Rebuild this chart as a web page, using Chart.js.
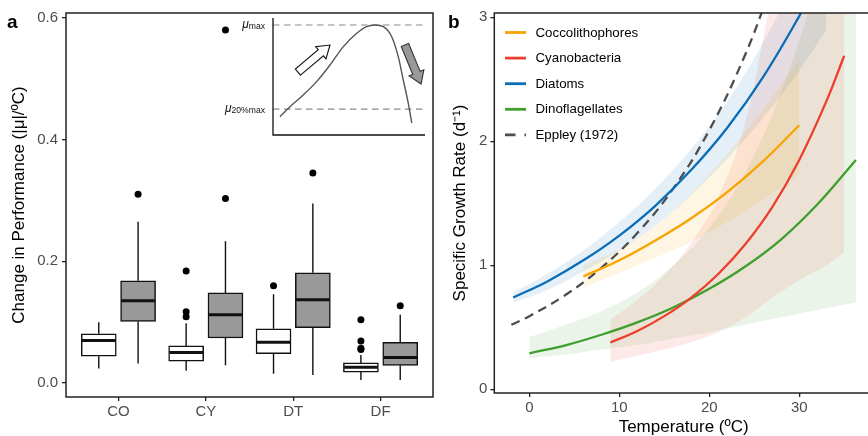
<!DOCTYPE html>
<html><head><meta charset="utf-8">
<script src="https://cdn.jsdelivr.net/npm/chart.js@4.4.1/dist/chart.umd.min.js"></script>
<style>
html,body{margin:0;padding:0;background:#fff;overflow:hidden;width:868px;height:436px;}
#wrap{position:relative;width:868px;height:436px;overflow:hidden;}
canvas{position:absolute;}
#ca{left:0;top:0;}
#cb{left:440px;top:0;}
#ci{left:215px;top:10px;}
</style></head><body>
<div id="wrap">
<canvas id="ca" width="440" height="436"></canvas>
<canvas id="cb" width="440" height="436"></canvas>
<canvas id="ci" width="220" height="132"></canvas>
</div>
<script>
// ---------------- DATA: panel a (box plots) ----------------
const categories = ['CO', 'CY', 'DT', 'DF'];
const perfTicks = [0.0, 0.2, 0.4, 0.6];
// white boxes
const whiteLow    = [0.024, 0.020, 0.015, 0.005];
const whiteQ1     = [0.044, 0.036, 0.048, 0.018];
const whiteMedian = [0.070, 0.050, 0.067, 0.026];
const whiteQ3     = [0.081, 0.061, 0.089, 0.033];
const whiteHigh   = [0.100, 0.098, 0.146, 0.046];
const whiteOutliers = [[], [0.184, 0.117, 0.109], [0.160], [0.104, 0.069, 0.057, 0.055]];
// grey boxes
const greyLow    = [0.032, 0.029, 0.013, 0.005];
const greyQ1     = [0.101, 0.074, 0.091, 0.029];
const greyMedian = [0.135, 0.112, 0.137, 0.042];
const greyQ3     = [0.168, 0.148, 0.181, 0.067];
const greyHigh   = [0.265, 0.233, 0.295, 0.112];
const greyOutliers = [[0.310], [0.303, 0.580], [0.345], [0.127]];

// ---------------- DATA: inset schematic ----------------
const insetX = [4.6, 11.2, 19.9, 28.7, 37.5, 46.3, 55.1, 61.6, 67.1, 72.6, 78.1, 82.4, 85.7, 89.0, 91.3];
const insetY = [15.6, 24.2, 34.2, 45.6, 59.8, 75.5, 86.9, 92.6, 94.0, 92.6, 84.0, 67.0, 47.0, 27.1, 10.3];
const insetMax = 94.0;
const insetMin20 = 22.2;

// ---------------- DATA: panel b (growth curves) ----------------
const tempTicks = [0, 10, 20, 30];
const rateTicks = [0, 1, 2, 3];
const seriesNames = ['Coccolithophores', 'Cyanobacteria', 'Diatoms', 'Dinoflagellates', 'Eppley (1972)'];

const coccoT  = [6, 10, 14, 18, 22, 26, 30];
const coccoMu = [0.91, 1.04, 1.20, 1.38, 1.59, 1.84, 2.13];
const coccoLo = [0.82, 0.94, 1.06, 1.19, 1.35, 1.53, 1.74];
const coccoHi = [1.00, 1.13, 1.32, 1.58, 1.90, 2.26, 2.66];

const cyanoT  = [9, 12, 15, 18, 21, 24, 27, 30, 33, 35];
const cyanoMu = [0.377, 0.47, 0.59, 0.74, 0.93, 1.17, 1.47, 1.85, 2.32, 2.69];
const cyanoLo = [0.22, 0.27, 0.32, 0.38, 0.46, 0.58, 0.74, 0.88, 1.00, 1.11];
const cyanoHi = [0.56, 0.72, 0.92, 1.18, 1.55, 2.15, 3.2, 4.2, 5.2, 6.0];

const diatomT  = [-1.8, 2, 6, 10, 14, 18, 22, 26, 30, 33];
const diatomMu = [0.74, 0.87, 1.04, 1.24, 1.48, 1.77, 2.11, 2.52, 3.01, 3.42];
const diatomLo = [0.70, 0.80, 0.95, 1.12, 1.32, 1.57, 1.86, 2.19, 2.57, 2.90];
const diatomHi = [0.78, 0.93, 1.12, 1.35, 1.62, 1.94, 2.32, 2.80, 3.37, 3.90];

const dinoT  = [0, 4, 8, 12, 16, 20, 24, 28, 32, 36.3];
const dinoMu = [0.29, 0.355, 0.44, 0.54, 0.66, 0.81, 0.99, 1.21, 1.49, 1.85];
const dinoLo = [0.25, 0.28, 0.32, 0.36, 0.41, 0.46, 0.52, 0.58, 0.64, 0.70];
const dinoHi = [0.42, 0.52, 0.63, 0.78, 1.00, 1.30, 1.75, 2.40, 3.30, 4.60];

const eppleyT  = [-2, 0, 4, 8, 12, 16, 20, 24, 27];
const eppleyMu = [0.52, 0.59, 0.76, 0.98, 1.26, 1.62, 2.09, 2.70, 3.27];

// ---------------- styles ----------------
const FONT = "'Liberation Sans', Arial, Helvetica, sans-serif";
const TICK_COLOR = '#4D4D4D';
const AXIS_COLOR = '#222';
const C_ORANGE = '#F7A400', C_RED = '#EC3F2C', C_BLUE = '#0A6DB5', C_GREEN = '#3E9E2E', C_DASH = '#4D4D4D';
function rgba(hex, a){
  const n = parseInt(hex.slice(1), 16);
  return `rgba(${(n>>16)&255},${(n>>8)&255},${n&255},${a})`;
}
Chart.defaults.font.family = FONT;
Chart.defaults.animation = false;

// ---------------- panel a ----------------
const dodge = 0.225;
function boxData(q1, q3, off){ return q1.map((v, i) => ({x: i + 1 + off, y: [v, q3[i]]})); }
function outlierData(list, off){
  const out = [];
  list.forEach((arr, i) => arr.forEach(v => out.push({x: i + 1 + off, y: v})));
  return out;
}
const boxGroups = [
  {ds: 0, low: whiteLow, med: whiteMedian, q1: whiteQ1, q3: whiteQ3, high: whiteHigh},
  {ds: 1, low: greyLow, med: greyMedian, q1: greyQ1, q3: greyQ3, high: greyHigh}
];

const boxPlugin = {
  id: 'boxParts',
  beforeDatasetsDraw(chart){
    const ctx = chart.ctx, ys = chart.scales.y;
    ctx.save();
    ctx.strokeStyle = '#111'; ctx.lineWidth = 1.4;
    boxGroups.forEach(g => {
      chart.getDatasetMeta(g.ds).data.forEach((el, i) => {
        ctx.beginPath();
        ctx.moveTo(el.x, ys.getPixelForValue(g.low[i]));
        ctx.lineTo(el.x, ys.getPixelForValue(g.q1[i]));
        ctx.moveTo(el.x, ys.getPixelForValue(g.q3[i]));
        ctx.lineTo(el.x, ys.getPixelForValue(g.high[i]));
        ctx.stroke();
      });
    });
    ctx.restore();
  },
  afterDatasetsDraw(chart){
    const ctx = chart.ctx, ys = chart.scales.y, a = chart.chartArea;
    ctx.save();
    ctx.strokeStyle = '#111'; ctx.lineWidth = 3;
    boxGroups.forEach(g => {
      chart.getDatasetMeta(g.ds).data.forEach((el, i) => {
        const y = ys.getPixelForValue(g.med[i]);
        ctx.beginPath();
        ctx.moveTo(el.x - el.width / 2 + 0.7, y);
        ctx.lineTo(el.x + el.width / 2 - 0.7, y);
        ctx.stroke();
      });
    });
    ctx.strokeStyle = AXIS_COLOR; ctx.lineWidth = 1.5;
    ctx.strokeRect(a.left, a.top, a.right - a.left, a.bottom - a.top);
    ctx.fillStyle = '#000';
    ctx.font = 'bold 19px ' + FONT;
    ctx.textBaseline = 'alphabetic'; ctx.textAlign = 'left';
    ctx.fillText('a', 7, 27.5);
    ctx.restore();
  }
};

new Chart(document.getElementById('ca'), {
  type: 'bar',
  data: {
    datasets: [
      {type: 'bar', data: boxData(whiteQ1, whiteQ3, -dodge), backgroundColor: '#ffffff', borderColor: '#111',
       borderWidth: 1.5, borderSkipped: false, barThickness: 35, grouped: false, order: 2},
      {type: 'bar', data: boxData(greyQ1, greyQ3, dodge), backgroundColor: '#999999', borderColor: '#111',
       borderWidth: 1.5, borderSkipped: false, barThickness: 35, grouped: false, order: 2},
      {type: 'scatter', data: outlierData(whiteOutliers, -dodge).concat(outlierData(greyOutliers, dodge)),
       pointRadius: 3.5, pointBackgroundColor: '#000', pointBorderWidth: 0, order: 0}
    ]
  },
  options: {
    responsive: false,
    layout: {padding: {left: 0, top: 13, right: 7, bottom: 0}},
    plugins: {legend: {display: false}, tooltip: {enabled: false}},
    scales: {
      x: {
        type: 'linear', min: 0.4, max: 4.6, offset: false,
        afterBuildTicks(s){ s.ticks = categories.map((c, i) => ({value: i + 1})); },
        afterFit(s){ s.height = 39; },
        ticks: {callback: v => categories[v - 1], color: TICK_COLOR, font: {size: 15}, padding: 2, autoSkip: false, maxRotation: 0},
        grid: {display: true, offset: false, drawOnChartArea: false, drawTicks: true, tickLength: 4, color: AXIS_COLOR, lineWidth: 1.3},
        border: {display: false}
      },
      y: {
        type: 'linear', min: -0.023, max: 0.608,
        afterBuildTicks(s){ s.ticks = perfTicks.map(v => ({value: v})); },
        afterFit(s){ s.width = 66; },
        ticks: {callback: v => v.toFixed(1), color: TICK_COLOR, font: {size: 15}, padding: 4},
        grid: {display: true, drawOnChartArea: false, drawTicks: true, tickLength: 4, color: AXIS_COLOR, lineWidth: 1.3},
        border: {display: false},
        title: {display: true, text: 'Change in Performance (|\u03bc|/\u00baC)', color: '#000', font: {size: 17}, padding: {top: 9, bottom: 0}}
      }
    }
  },
  plugins: [boxPlugin]
});

// ---------------- inset ----------------
const insetArrows = [
  {from: [16.4, 53.8], to: [37.5, 76.9], fill: '#ffffff', stroke: '#111'},
  {from: [86.8, 76.9], to: [97.4, 43.6], fill: '#999999', stroke: '#333'}
];
function blockArrow(ctx, x0, y0, x1, y1, shaftW, headW, headL){
  const dx = x1 - x0, dy = y1 - y0, L = Math.hypot(dx, dy);
  const ux = dx / L, uy = dy / L, px = -uy, py = ux;
  const bx = x1 - ux * headL, by = y1 - uy * headL;
  const pts = [
    [x0 + px * shaftW / 2, y0 + py * shaftW / 2],
    [bx + px * shaftW / 2, by + py * shaftW / 2],
    [bx + px * headW / 2, by + py * headW / 2],
    [x1, y1],
    [bx - px * headW / 2, by - py * headW / 2],
    [bx - px * shaftW / 2, by - py * shaftW / 2],
    [x0 - px * shaftW / 2, y0 - py * shaftW / 2]
  ];
  ctx.beginPath();
  pts.forEach((p, i) => i ? ctx.lineTo(p[0], p[1]) : ctx.moveTo(p[0], p[1]));
  ctx.closePath();
}
const insetPlugin = {
  id: 'insetDeco',
  afterDatasetsDraw(chart){
    const ctx = chart.ctx, a = chart.chartArea, xs = chart.scales.x, ys = chart.scales.y;
    ctx.save();
    ctx.strokeStyle = '#111'; ctx.lineWidth = 1.3;
    ctx.beginPath();
    ctx.moveTo(a.left, a.top); ctx.lineTo(a.left, a.bottom); ctx.lineTo(a.right, a.bottom);
    ctx.stroke();
    insetArrows.forEach(ar => {
      blockArrow(ctx, xs.getPixelForValue(ar.from[0]), ys.getPixelForValue(ar.from[1]),
                 xs.getPixelForValue(ar.to[0]), ys.getPixelForValue(ar.to[1]), 8, 16, 12);
      ctx.fillStyle = ar.fill; ctx.fill();
      ctx.strokeStyle = ar.stroke; ctx.lineWidth = 1.1; ctx.stroke();
    });
    function label(sub, yVal){
      const y = ys.getPixelForValue(yVal) + 3;
      ctx.font = '8.6px ' + FONT;
      const ws = ctx.measureText(sub).width;
      ctx.font = 'italic 12px ' + FONT;
      const wm = ctx.measureText('\u03bc').width;
      const right = a.left - 8;
      ctx.fillStyle = '#111'; ctx.textBaseline = 'alphabetic'; ctx.textAlign = 'left';
      ctx.fillText('\u03bc', right - ws - wm, y);
      ctx.font = '8.6px ' + FONT;
      ctx.fillText(sub, right - ws, y + 1);
    }
    label('max', insetMax);
    label('20%max', insetMin20);
    ctx.restore();
  }
};
new Chart(document.getElementById('ci'), {
  type: 'line',
  data: {
    datasets: [
      {data: insetX.map((x, i) => ({x, y: insetY[i]})), borderColor: '#555', borderWidth: 1.4, pointRadius: 0,
       cubicInterpolationMode: 'monotone', fill: false},
      {data: [{x: 0, y: insetMax}, {x: 100, y: insetMax}], borderColor: '#8a8a8a', borderWidth: 1.2, borderDash: [6.5, 4.5], pointRadius: 0, fill: false},
      {data: [{x: 0, y: insetMin20}, {x: 100, y: insetMin20}], borderColor: '#8a8a8a', borderWidth: 1.2, borderDash: [6.5, 4.5], pointRadius: 0, fill: false}
    ]
  },
  options: {
    responsive: false,
    layout: {padding: {left: 58, top: 8, right: 10, bottom: 7}},
    plugins: {legend: {display: false}, tooltip: {enabled: false}},
    scales: {
      x: {type: 'linear', display: false, min: 0, max: 100},
      y: {type: 'linear', display: false, min: 0, max: 100}
    }
  },
  plugins: [insetPlugin]
});

// ---------------- panel b ----------------
function xy(T, v){ return T.map((t, i) => ({x: t, y: v[i]})); }
function ribbon(T, lo, hi, color){
  const common = {pointRadius: 0, borderWidth: 0, borderColor: 'rgba(0,0,0,0)', tension: 0.4, order: 5, clip: 0};
  return [
    Object.assign({data: xy(T, lo), fill: false}, common),
    Object.assign({data: xy(T, hi), fill: '-1', backgroundColor: rgba(color, 0.11)}, common)
  ];
}
function curve(T, v, color, dash){
  return {data: xy(T, v), borderColor: color, borderWidth: 2.3, pointRadius: 0, fill: false,
          tension: 0.4, borderDash: dash || [], order: 0, clip: 0, borderCapStyle: 'butt'};
}
const legendEntries = [
  {label: seriesNames[0], color: C_ORANGE, dash: null},
  {label: seriesNames[1], color: C_RED, dash: null},
  {label: seriesNames[2], color: C_BLUE, dash: null},
  {label: seriesNames[3], color: C_GREEN, dash: null},
  {label: seriesNames[4], color: C_DASH, dash: [10.5, 9]}
];
const panelBPlugin = {
  id: 'panelB',
  afterDatasetsDraw(chart){
    const ctx = chart.ctx, a = chart.chartArea;
    ctx.save();
    ctx.strokeStyle = AXIS_COLOR; ctx.lineWidth = 1.5;
    ctx.strokeRect(a.left, a.top, a.right - a.left, a.bottom - a.top);
    ctx.font = '13.3px ' + FONT; ctx.textBaseline = 'middle'; ctx.textAlign = 'left';
    legendEntries.forEach((e, i) => {
      const y = 32.5 + i * 25.6;
      ctx.beginPath();
      ctx.setLineDash(e.dash || []);
      ctx.strokeStyle = e.color; ctx.lineWidth = 2.8; ctx.lineCap = 'butt';
      ctx.moveTo(65, y); ctx.lineTo(86, y); ctx.stroke();
      ctx.setLineDash([]);
      ctx.fillStyle = '#000';
      ctx.fillText(e.label, 95.5, y + 0.5);
    });
    ctx.fillStyle = '#000';
    ctx.font = 'bold 19px ' + FONT; ctx.textBaseline = 'alphabetic';
    ctx.fillText('b', 8, 27.5);
    ctx.restore();
  }
};
new Chart(document.getElementById('cb'), {
  type: 'line',
  data: {
    datasets: [
      curve(coccoT, coccoMu, C_ORANGE),
      curve(cyanoT, cyanoMu, C_RED),
      curve(diatomT, diatomMu, C_BLUE),
      curve(dinoT, dinoMu, C_GREEN),
      curve(eppleyT, eppleyMu, C_DASH, [9, 6]),
      ...ribbon(coccoT, coccoLo, coccoHi, C_ORANGE),
      ...ribbon(cyanoT, cyanoLo, cyanoHi, C_RED),
      ...ribbon(diatomT, diatomLo, diatomHi, C_BLUE),
      ...ribbon(dinoT, dinoLo, dinoHi, C_GREEN)
    ]
  },
  options: {
    responsive: false,
    layout: {padding: {left: 0, top: 13, right: 7, bottom: 0}},
    plugins: {legend: {display: false}, tooltip: {enabled: false}},
    scales: {
      x: {
        type: 'linear', min: -3.9, max: 38.2,
        afterBuildTicks(s){ s.ticks = tempTicks.map(v => ({value: v})); },
        afterFit(s){ s.height = 43; },
        ticks: {color: TICK_COLOR, font: {size: 15}, padding: 2, maxRotation: 0, autoSkip: false},
        grid: {display: true, drawOnChartArea: false, drawTicks: true, tickLength: 4, color: AXIS_COLOR, lineWidth: 1.3},
        border: {display: false},
        title: {display: true, text: 'Temperature (\u00baC)', color: '#000', font: {size: 17}, padding: {top: 0, bottom: -2}}
      },
      y: {
        type: 'linear', min: -0.03, max: 3.035,
        afterBuildTicks(s){ s.ticks = rateTicks.map(v => ({value: v})); },
        afterFit(s){ s.width = 54.3; },
        ticks: {color: TICK_COLOR, font: {size: 15}, padding: 3},
        grid: {display: true, drawOnChartArea: false, drawTicks: true, tickLength: 4, color: AXIS_COLOR, lineWidth: 1.3},
        border: {display: false},
        title: {display: true, text: 'Specific Growth Rate (d\u207b\u00b9)', color: '#000', font: {size: 17}, padding: {top: 10, bottom: 0}}
      }
    }
  },
  plugins: [panelBPlugin]
});
</script>
</body></html>
